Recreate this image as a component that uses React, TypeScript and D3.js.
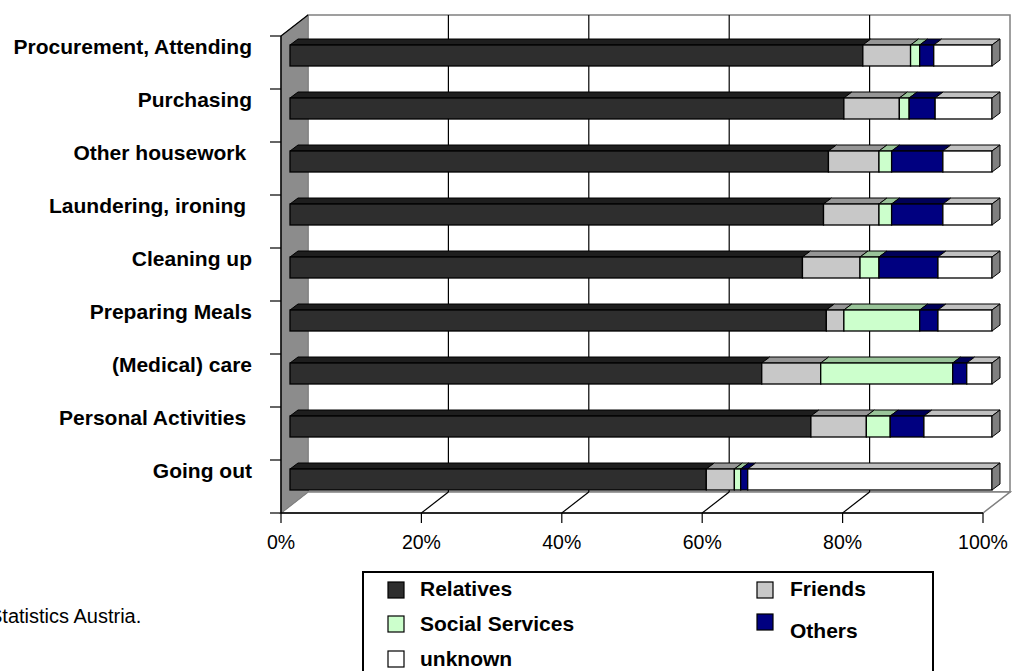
import React from "react";
import * as d3 from "d3";

const categories = [
  "Procurement, Attending",
  "Purchasing",
  "Other housework ",
  "Laundering, ironing ",
  "Cleaning up",
  "Preparing Meals",
  "(Medical) care",
  "Personal Activities ",
  "Going out",
];
const seriesNames = ["Relatives", "Friends", "Social Services", "Others", "unknown"];
const relatives = [81.6, 78.9, 76.7, 76.0, 73.0, 76.4, 67.2, 74.2, 59.3];
const friends = [6.8, 7.9, 7.2, 7.9, 8.2, 2.5, 8.4, 7.9, 4.0];
const socialServices = [1.3, 1.4, 1.8, 1.8, 2.7, 10.8, 18.8, 3.4, 0.9];
const others = [2.0, 3.7, 7.3, 7.3, 8.4, 2.6, 2.0, 4.8, 1.0];
const unknown = [8.3, 8.1, 7.0, 7.0, 7.7, 7.7, 3.6, 9.7, 34.8];
const tickValues = [0, 20, 40, 60, 80, 100];

const frontColors = ["#2e2e2e", "#c8c8c8", "#ccffcc", "#000080", "#ffffff"];
const topColors = ["#1e1e1e", "#969696", "#99c499", "#000058", "#c0c0c0"];
const FONT = "'Liberation Sans', Arial, sans-serif";

export default function App() {
  const W = 1012, H = 671;
  const x = d3.scaleLinear().domain([0, 100]).range([281, 983]);
  const y = d3.scaleBand<string>().domain(categories).range([36, 513]).padding(0);
  const DX = 27, DY = 21; // wall depth
  const FX = 9, FY = 7; // bar front offset
  const BX = 8, BY = 6; // bar depth
  const barH = 21;

  const rows = categories.map((c, i) => ({
    cat: c,
    Relatives: relatives[i],
    Friends: friends[i],
    "Social Services": socialServices[i],
    Others: others[i],
    unknown: unknown[i],
  }));
  const stacked = d3.stack<any>().keys(seriesNames)(rows);

  const yTop = 36, yBot = 513;
  const x0 = x(0), x1 = x(100);
  const pts = (a: number[][]) => a.map((p) => p.join(",")).join(" ");

  const legendItems = [
    { name: "Relatives", color: frontColors[0], sx: 388, sy: 582, tx: 420, ty: 596 },
    { name: "Friends", color: frontColors[1], sx: 757, sy: 582, tx: 790, ty: 596 },
    { name: "Social Services", color: frontColors[2], sx: 388, sy: 616, tx: 420, ty: 631 },
    { name: "Others", color: frontColors[3], sx: 757, sy: 614, tx: 790, ty: 638 },
    { name: "unknown", color: frontColors[4], sx: 388, sy: 651, tx: 420, ty: 666 },
  ];

  return (
    <div style={{ position: "absolute", left: 0, top: 0 }}>
      <svg width={W} height={H} style={{ display: "block", background: "#fff" }} fontFamily={FONT}>
        {/* back wall */}
        <rect x={x0 + DX} y={yTop - DY} width={x1 - x0} height={yBot - yTop} fill="#fff" stroke="#808080" strokeWidth={1.5} />
        {/* floor */}
        <polygon points={pts([[x0, yBot], [x0 + DX, yBot - DY], [x1 + DX, yBot - DY], [x1, yBot]])} fill="#fff" stroke="#808080" strokeWidth={1.5} />
        {/* gridlines */}
        {tickValues.slice(1, -1).map((t) => (
          <g key={t}>
            <line x1={x(t) + DX} x2={x(t) + DX} y1={yTop - DY} y2={yBot - DY} stroke="#000" strokeWidth={1.2} />
            <line x1={x(t) + DX} x2={x(t)} y1={yBot - DY} y2={yBot} stroke="#000" strokeWidth={1.2} />
          </g>
        ))}
        {/* side wall */}
        <polygon points={pts([[x0, yTop], [x0 + DX, yTop - DY], [x0 + DX, yBot - DY], [x0, yBot]])} fill="#8c8c8c" stroke="#808080" strokeWidth={1} />
        <line x1={x0} y1={yTop} x2={x0 + DX} y2={yTop - DY} stroke="#000" strokeWidth={1.2} />
        {/* axes */}
        <line x1={x0} x2={x0} y1={yTop} y2={yBot} stroke="#000" strokeWidth={1.5} />
        <line x1={x0} x2={x1} y1={yBot} y2={yBot} stroke="#000" strokeWidth={1.5} />
        {[...categories.map((c) => y(c)!), yBot].map((v, i) => (
          <line key={i} x1={x0 - 11} x2={x0} y1={v} y2={v} stroke="#000" strokeWidth={1.2} />
        ))}
        {tickValues.map((t) => (
          <g key={t}>
            <line x1={x(t)} x2={x(t)} y1={yBot} y2={yBot + 10} stroke="#000" strokeWidth={1.2} />
            <text x={x(t)} y={549} textAnchor="middle" fontSize={19.5} fill="#000">{t}%</text>
          </g>
        ))}
        {/* bars */}
        {categories.map((c, ci) => {
          const cy = y(c)! + y.bandwidth() / 2 - FY;
          const top = cy - barH / 2;
          return (
            <g key={c}>
              {stacked.map((s, si) => {
                const a = x(s[ci][0]) + FX, b = x(s[ci][1]) + FX;
                return (
                  <g key={si}>
                    <polygon points={pts([[a, top], [a + BX, top - BY], [b + BX, top - BY], [b, top]])} fill={topColors[si]} stroke="#000" strokeWidth={1} strokeLinejoin="round" />
                    <rect x={a} y={top} width={b - a} height={barH} fill={frontColors[si]} stroke="#000" strokeWidth={1.3} />
                  </g>
                );
              })}
              {(() => {
                const e = x(100) + FX;
                return <polygon points={pts([[e, top], [e + BX, top - BY], [e + BX, top + barH - BY], [e, top + barH]])} fill="#808080" stroke="#000" strokeWidth={1} />;
              })()}
              <text x={252} y={y(c)! + y.bandwidth() / 2 - 9} textAnchor="end" fontSize={21} fontWeight="bold" fill="#000" style={{ whiteSpace: "pre" }}>{c}</text>
            </g>
          );
        })}
        {/* source */}
        <text x={-11} y={623} fontSize={20} fill="#000">Statistics Austria.</text>
        {/* legend */}
        <rect x={363} y={572} width={570} height={120} fill="#fff" stroke="#000" strokeWidth={2} />
        {legendItems.map((l) => (
          <g key={l.name}>
            <rect x={l.sx} y={l.sy} width={16} height={16} fill={l.color} stroke="#000" strokeWidth={1.2} />
            <text x={l.tx} y={l.ty} fontSize={21} fontWeight="bold" fill="#000">{l.name}</text>
          </g>
        ))}
      </svg>
    </div>
  );
}
